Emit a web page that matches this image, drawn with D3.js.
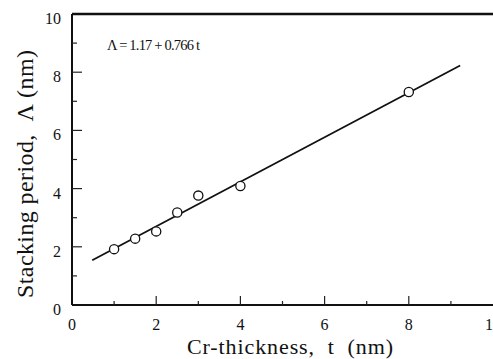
<!DOCTYPE html>
<html>
<head>
<meta charset="utf-8">
<script src="https://cdn.jsdelivr.net/npm/d3@7"></script>
<style>
    body { margin: 0; background: #fff; }
</style>
</head>
<body>
<svg id="chart" width="493" height="359"></svg>
<script>
"use strict";

// measured data: Cr thickness t (nm) vs stacking period (nm)
const thickness = [1, 1.5, 2, 2.5, 3, 4, 8];
const period = [1.92, 2.28, 2.53, 3.18, 3.76, 4.09, 7.32];
// linear fit  period = a + b * t
const fitA = 1.17;
const fitB = 0.766;
const fitRange = [0.48, 9.22];
const xTicks = [0, 2, 4, 6, 8, 10];
const yTicks = [0, 2, 4, 6, 8, 10];

const svg = d3.select("#chart")
    .attr("font-family", "'Liberation Serif', 'Times New Roman', Times, 'DejaVu Serif', serif");
const margin = { top: 14, left: 72, bottom: 305, right: 493 };

const x = d3.scaleLinear().domain([0, 10]).range([margin.left, margin.right]);
const y = d3.scaleLinear().domain([0, 10]).range([margin.bottom, margin.top]);

// frame: left, bottom, top
svg.append("line")
    .attr("x1", x(0)).attr("x2", x(0))
    .attr("y1", y(0)).attr("y2", y(10))
    .attr("stroke", "#111").attr("stroke-width", 2);
svg.append("line")
    .attr("x1", x(0)).attr("x2", x(10))
    .attr("y1", y(0)).attr("y2", y(0))
    .attr("stroke", "#111").attr("stroke-width", 2);
svg.append("line")
    .attr("x1", x(0)).attr("x2", x(10))
    .attr("y1", y(10)).attr("y2", y(10))
    .attr("stroke", "#111").attr("stroke-width", 2.5);

// inward ticks
const minor = d3.range(1, 10);
svg.selectAll(".xtick").data(minor).enter()
    .append("line")
    .attr("class", "xtick")
    .attr("x1", d => x(d)).attr("x2", d => x(d))
    .attr("y1", y(0))
    .attr("y2", d => y(0) - (d % 2 === 0 ? 9 : 4))
    .attr("stroke", "#222").attr("stroke-width", 1.2);
svg.selectAll(".ytick").data(minor).enter()
    .append("line")
    .attr("class", "ytick")
    .attr("y1", d => y(d)).attr("y2", d => y(d))
    .attr("x1", x(0))
    .attr("x2", d => x(0) + (d % 2 === 0 ? 10 : 5))
    .attr("stroke", "#222").attr("stroke-width", 1.2);

// tick labels
svg.selectAll(".xlabel").data(xTicks).enter()
    .append("text")
    .attr("class", "xlabel")
    .attr("x", d => x(d))
    .attr("y", y(0) + 25)
    .attr("text-anchor", "middle")
    .attr("font-size", 16)
    .attr("fill", "#111")
    .text(d => d);
svg.selectAll(".ylabel").data(yTicks).enter()
    .append("text")
    .attr("class", "ylabel")
    .attr("x", x(0) - 11)
    .attr("y", d => y(d) + 10)
    .attr("text-anchor", "end")
    .attr("font-size", 16)
    .attr("fill", "#111")
    .text(d => d);

// fit line
svg.append("line")
    .attr("x1", x(fitRange[0])).attr("y1", y(fitA + fitB * fitRange[0]))
    .attr("x2", x(fitRange[1])).attr("y2", y(fitA + fitB * fitRange[1]))
    .attr("stroke", "#111").attr("stroke-width", 1.8);

// points
svg.selectAll(".pt").data(thickness).enter()
    .append("circle")
    .attr("class", "pt")
    .attr("cx", d => x(d))
    .attr("cy", (d, i) => y(period[i]))
    .attr("r", 4.6)
    .attr("fill", "#fff")
    .attr("stroke", "#111")
    .attr("stroke-width", 1.3);

// equation
svg.append("text")
    .attr("x", 107).attr("y", 50)
    .attr("textLength", 93)
    .attr("font-size", 14.5)
    .attr("fill", "#111")
    .text("Λ = 1.17 + 0.766 t");

// axis titles
svg.append("text")
    .attr("x", 290).attr("y", 354)
    .attr("text-anchor", "middle")
    .attr("textLength", 206)
    .attr("font-size", 22)
    .attr("fill", "#111")
    .text("Cr-thickness,\u00a0 t\u00a0 (nm)");
svg.append("text")
    .attr("transform", "translate(33,174) rotate(-90)")
    .attr("text-anchor", "middle")
    .attr("textLength", 248)
    .attr("font-size", 24)
    .attr("fill", "#111")
    .text("Stacking period,\u00a0 Λ (nm)");
</script>
</body>
</html>
